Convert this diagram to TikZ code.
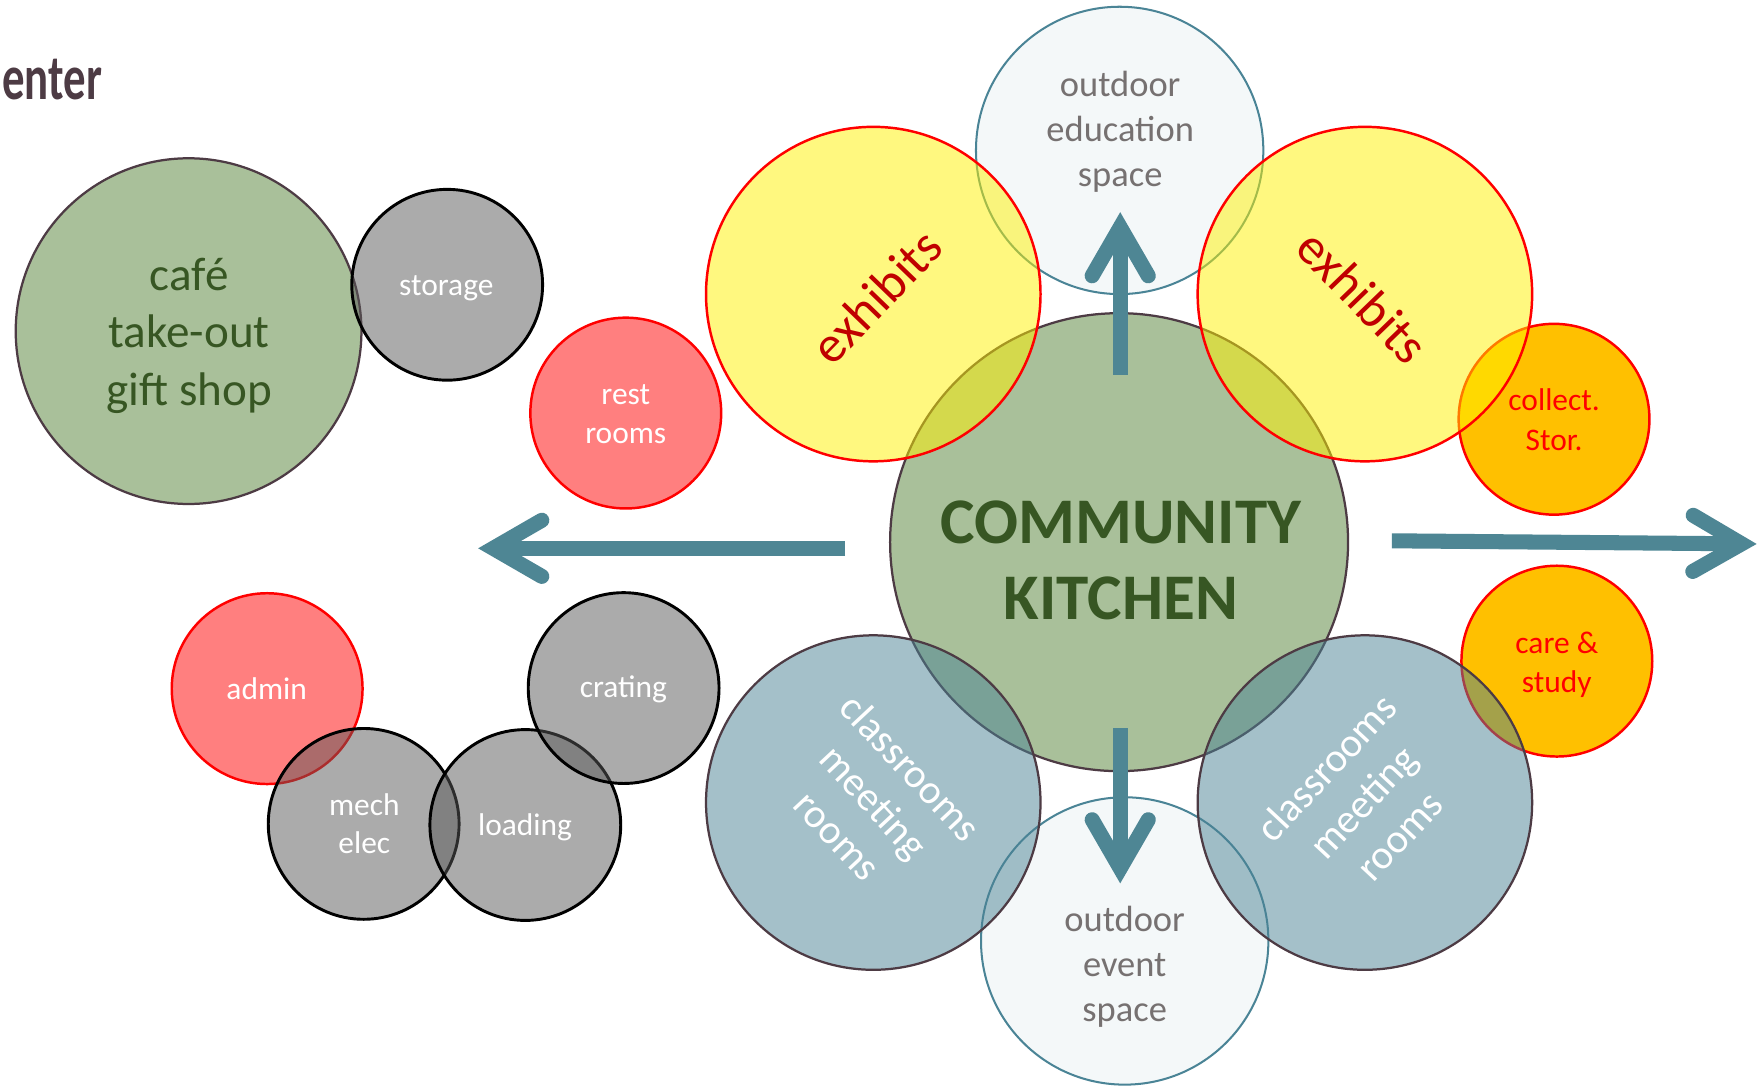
\documentclass[tikz,border=0pt]{standalone}
\usepackage{fontspec}
\setmainfont{Carlito}
\definecolor{sage}{HTML}{A9C09A}
\definecolor{dkgreen}{HTML}{375623}
\definecolor{mauve}{HTML}{4D3B44}
\definecolor{tealarrow}{HTML}{4E8694}
\definecolor{tealline}{HTML}{4A8496}
\definecolor{pale}{HTML}{F4F8F9}
\definecolor{greytxt}{HTML}{767171}
\definecolor{exred}{HTML}{C00000}
\definecolor{orng}{HTML}{FFC000}
\definecolor{gry}{HTML}{595959}
\definecolor{clteal}{HTML}{4B8395}
\begin{document}
\begin{tikzpicture}[x=1pt,y=-1pt,
  bubble/.style={circle,inner sep=0pt,outer sep=0pt},
  greenbub/.style={bubble,fill=sage,draw=mauve,line width=2pt},
  greybub/.style={bubble,minimum size=170pt,fill=gry,fill opacity=0.5,draw=black,line width=2.6pt},
  redbub/.style={bubble,minimum size=170pt,fill=red,fill opacity=0.5,draw=red,line width=2.2pt},
  orangebub/.style={bubble,minimum size=170pt,fill=orng,draw=red,line width=2.2pt},
  outbub/.style={bubble,minimum size=256pt,fill=pale,draw=tealline,line width=1.8pt},
  exbub/.style={bubble,minimum size=298pt,fill=yellow,fill opacity=0.5,draw=red,line width=2.2pt},
  clbub/.style={bubble,minimum size=298pt,fill=clteal,fill opacity=0.5,draw=mauve,line width=2pt},
  lab/.style={align=center,inner sep=0pt,outer sep=0pt},
  smalltxt/.style={lab,font=\fontsize{28}{34}\selectfont},
  outtxt/.style={lab,text=greytxt,font=\fontsize{32.5}{40}\selectfont},
  extxt/.style={lab,text=exred,font=\fontsize{46}{50}\selectfont},
  cltxt/.style={lab,text=white,font=\fontsize{36.5}{44.5}\selectfont},
  shaft/.style={draw=tealarrow,line width=13.4pt,line cap=butt},
  chevron/.style={draw=tealarrow,line width=13.4pt,line cap=round,line join=miter}
]
\fill[white] (0,0) rectangle (1568,969);
\useasboundingbox (0,0) rectangle (1568,969);

% title
\node[anchor=base east,inner sep=0pt,text=mauve,font=\bfseries\fontsize{57}{60}\selectfont] (title) at (91,88.5) {\scalebox{0.7}[1]{enter}};

% left group
\node[greenbub,minimum size=308pt] (cafe) at (168,295) {};
\node[greybub] (storage) at (398.4,253.7) {};
\node[redbub] (admin) at (238,613.5) {};
\node[greybub] (mech) at (324,734) {};
\node[greybub] (loading) at (468,735) {};
\node[greybub] (crating) at (555.6,613) {};
\node[redbub] (rest) at (557.5,368) {};

% outdoor spaces
\node[outbub] (edu) at (997.5,134) {};
\node[outbub] (event) at (1002,838.3) {};

% kitchen
\node[greenbub,minimum size=408pt] (kitchen) at (997,483) {};

% collection
\node[orangebub] (collect) at (1384.5,373.5) {};
\node[orangebub] (care) at (1387,589) {};

% exhibits and classrooms
\node[exbub] (exL) at (778,262) {};
\node[exbub] (exR) at (1216,262) {};
\node[clbub] (clL) at (778,715) {};
\node[clbub] (clR) at (1216,715) {};

% arrows
\coordinate (lS) at (753,488.5);
\coordinate (lV) at (439.4,488.5);
\coordinate (lA) at (482.7,463.5);
\coordinate (lB) at (482.7,513.5);
\draw[shaft] (lS) -- (lV);
\draw[chevron] (lA) -- (lV) -- (lB);

\coordinate (rS) at (1240,481.8);
\coordinate (rV) at (1551.6,484.5);
\coordinate (rA) at (1508.5,459.1);
\coordinate (rB) at (1508.1,509.1);
\draw[shaft] (rS) -- (rV);
\draw[chevron] (rA) -- (rV) -- (rB);

\coordinate (uS) at (998,334);
\coordinate (uV) at (998,202.4);
\coordinate (uA) at (973,245.7);
\coordinate (uB) at (1023,245.7);
\draw[shaft] (uS) -- (uV);
\draw[chevron] (uA) -- (uV) -- (uB);

\coordinate (dS) at (998,649);
\coordinate (dV) at (998,773.6);
\coordinate (dA) at (973,730.3);
\coordinate (dB) at (1023,730.3);
\draw[shaft] (dS) -- (dV);
\draw[chevron] (dA) -- (dV) -- (dB);

% labels
\node[lab,text=dkgreen,font=\fontsize{42}{51.2}\selectfont] (cafe-t) at (168.6,299) {café\\take-out\\gift shop};
\node[smalltxt,text=white,anchor=base] (storage-t) at (397.6,263.5) {storage};
\node[smalltxt,text=white] (rest-t) at (557.5,369) {rest\\rooms};
\node[smalltxt,text=white,anchor=base] (admin-t) at (237.6,623) {admin};
\node[smalltxt,text=white] (mech-t) at (324.6,734) {mech\\elec};
\node[smalltxt,text=white,anchor=base] (loading-t) at (467.8,744) {loading};
\node[smalltxt,text=white,anchor=base] (crating-t) at (555.4,621.5) {crating};
\node[lab,text=red,font=\fontsize{28}{36}\selectfont] (collect-t) at (1384.6,374) {collect.\\Stor.};
\node[lab,text=red,font=\fontsize{28}{34.5}\selectfont] (care-t) at (1387,592) {care \&\\study};
\node[outtxt] (edu-t) at (998,117.4) {outdoor\\education\\space};
\node[outtxt] (event-t) at (1002,861) {outdoor\\event\\space};
\node[lab,text=dkgreen,font=\bfseries\fontsize{58}{67.7}\selectfont] (kitchen-t) at (998.6,499) {COMMUNITY\\KITCHEN};
\node[extxt,rotate=46] (exL-t) at (781,264) {exhibits};
\node[extxt,rotate=-46] (exR-t) at (1214,264) {exhibits};
\node[cltxt,rotate=-47] (clL-t) at (779,714) {classrooms\\meeting\\rooms};
\node[cltxt,rotate=47] (clR-t) at (1214,714) {classrooms\\meeting\\rooms};
\end{tikzpicture}
\end{document}
